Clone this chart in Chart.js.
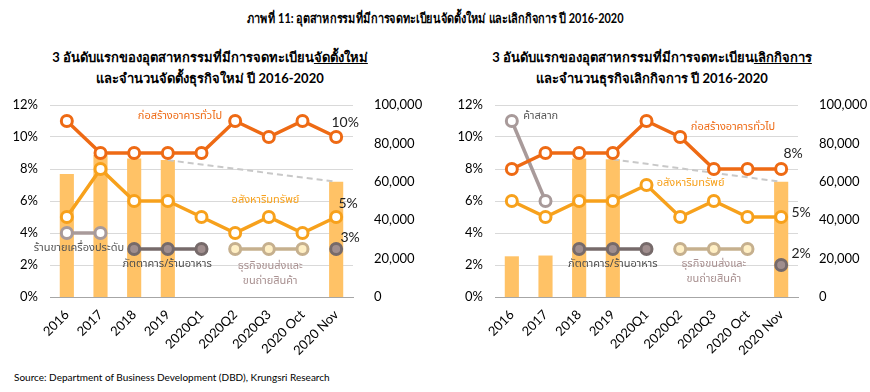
<!DOCTYPE html>
<html>
<head>
<meta charset="utf-8">
<script src="https://cdn.jsdelivr.net/npm/chart.js@4"></script>
<style>
    body { margin: 0; width: 870px; height: 392px; background: #fff; font-family: Lato, "Noto Sans", sans-serif; position: relative; overflow: hidden; }
    .title { position: absolute; top: 8px; left: 0; width: 870px; text-align: center; font-weight: bold; font-size: 13px; color: #000; }
    .title span { display: inline-block; transform: scaleX(0.84); }
    .sub { position: absolute; top: 47px; width: 420px; text-align: center; font-weight: bold; font-size: 13px; line-height: 21px; color: #000; }
    .sub u { text-decoration: underline; }
    canvas { position: absolute; top: 92px; }
    .source { position: absolute; left: 14px; top: 371px; font-size: 10px; color: #000; }
</style>
</head>
<body>
<div class="title"><span>ภาพที่ 11: อุตสาหกรรมที่มีการจดทะเบียนจัดตั้งใหม่ และเลิกกิจการ ปี 2016-2020</span></div>
<div class="sub" style="left:0px">3 อันดับแรกของอุตสาหกรรมที่มีการจดทะเบียน<u>จัดตั้งใหม่</u><br>และจำนวนจัดตั้งธุรกิจใหม่ ปี 2016-2020</div>
<div class="sub" style="left:442px">3 อันดับแรกของอุตสาหกรรมที่มีการจดทะเบียน<u>เลิกกิจการ</u><br>และจำนวนธุรกิจเลิกกิจการ ปี 2016-2020</div>
<canvas id="newChart" width="432" height="268" style="left:0px"></canvas>
<canvas id="closedChart" width="435" height="268" style="left:435px"></canvas>
<div class="source">Source: Department of Business Development (DBD), Krungsri Research</div>

<script>
// Категории (ось X)
const categories = ['2016', '2017', '2018', '2019', '2020Q1', '2020Q2', '2020Q3', '2020 Oct', '2020 Nov'];

// Левый график: новые регистрации (%)
const newConstruction = [11, 9, 9, 9, 9, 11, 10, 11, 10];
const newRealEstate = [5, 8, 6, 6, 5, 4, 5, 4, 5];
const newJewelry = [4, 4, null, null, null, null, null, null, null];
const newRestaurant = [null, null, 3, 3, 3, null, null, null, 3];
const newTransport = [null, null, null, null, null, 3, 3, 3, null];
const newFirms = [64000, 74000, 72200, 71300, null, null, null, null, 60000];

// Правый график: закрытие бизнеса (%)
const closedConstruction = [8, 9, 9, 9, 11, 10, 8, 8, 8];
const closedRealEstate = [6, 5, 6, 6, 7, 5, 6, 5, 5];
const closedLottery = [11, 6, null, null, null, null, null, null, null];
const closedRestaurant = [null, null, 3, 3, 3, null, null, null, 2];
const closedTransport = [null, null, null, null, null, 3, 3, 3, null];
const closedFirms = [21200, 21600, 72200, 71700, null, null, null, null, 60000];

// Подписи осей
const pctTicks = [0, 2, 4, 6, 8, 10, 12];
const countTicks = [0, 20000, 40000, 60000, 80000, 100000];

// Цвета
const C = {
    construction: '#EE6A14',
    realEstate: '#F7A11C',
    bar: '#FFC266',
    mauve: '#A89A9A',
    darkGray: '#766A6A',
    darkFill: '#A08E8E',
    tan: '#C6B08E',
    tanFill: '#FFEFC4'
};

const thaiFont = 'Tahoma, "Noto Sans Thai", "Noto Sans", sans-serif';

// Линейный ряд с кружками
function lineSet(data, color, fill) {
    return {
        type: 'line',
        data: data,
        yAxisID: 'y',
        borderColor: color,
        borderWidth: 3.5,
        pointRadius: 5.5,
        pointHoverRadius: 5.5,
        pointBorderWidth: 3,
        pointBackgroundColor: fill || '#fff',
        pointBorderColor: color,
        spanGaps: false,
        order: 1
    };
}

// Плагин для текстовых подписей
const labelsPlugin = {
    id: 'labels',
    afterDatasetsDraw(chart, args, opts) {
        const ctx = chart.ctx;
        const x = chart.scales.x;
        const y = chart.scales.y;
        ctx.save();
        ctx.textAlign = 'center';
        ctx.textBaseline = 'middle';
        (opts.items || []).forEach(function(item) {
            ctx.font = '11px ' + thaiFont;
            ctx.fillStyle = item.color;
            ctx.fillText(item.text, x.getPixelForValue(item.i), y.getPixelForValue(item.v));
        });
        // Значения последней точки
        ctx.font = '14px Lato, sans-serif';
        ctx.fillStyle = '#222';
        (opts.ends || []).forEach(function(end) {
            const last = end.data[end.data.length - 1];
            const px = x.getPixelForValue(end.data.length - 1) + end.dx;
            const py = y.getPixelForValue(last) + end.dy;
            ctx.fillText(last + '%', px, py);
        });
        ctx.restore();
    }
};

function makeChart(id, lines, firms, items, ends, leftW, rightW) {
    const ctx = document.getElementById(id).getContext('2d');
    // Пунктир между столбцами 2019 и 2020 Nov
    const trend = firms.map((v, i) => i >= 3 ? v : null);
    return new Chart(ctx, {
        type: 'bar',
        data: {
            labels: categories,
            datasets: lines.concat([
                {
                    type: 'line',
                    data: trend,
                    yAxisID: 'y1',
                    borderColor: '#C8C8C8',
                    borderWidth: 2,
                    borderDash: [6, 4],
                    pointRadius: 0,
                    spanGaps: true,
                    order: 2
                },
                {
                    type: 'bar',
                    data: firms,
                    yAxisID: 'y1',
                    backgroundColor: C.bar,
                    barPercentage: 0.42,
                    categoryPercentage: 1,
                    order: 3
                }
            ])
        },
        options: {
            responsive: false,
            animation: false,
            devicePixelRatio: 1,
            layout: { padding: { top: 13, left: 0, right: 0, bottom: 0 } },
            plugins: {
                legend: { display: false },
                tooltip: { enabled: false },
                labels: { items: items, ends: ends }
            },
            scales: {
                x: {
                    grid: { display: false },
                    border: { display: true, color: '#A6A6A6', width: 1 },
                    ticks: {
                        color: '#000',
                        font: { family: 'Lato, sans-serif', size: 13 },
                        minRotation: 45,
                        maxRotation: 45,
                        padding: 2
                    },
                    afterFit: function(s) { s.height = 63; }
                },
                y: {
                    position: 'left',
                    min: 0,
                    max: 12,
                    afterBuildTicks: function(s) { s.ticks = pctTicks.map(v => ({ value: v })); },
                    grid: { color: '#D9D9D9', drawTicks: false, lineWidth: 1 },
                    border: { display: false },
                    ticks: {
                        color: '#000',
                        padding: 12,
                        font: { family: 'Lato, sans-serif', size: 13 },
                        callback: v => v + '%'
                    },
                    afterFit: function(s) { s.width = leftW; s.paddingTop = 0; s.paddingBottom = 0; }
                },
                y1: {
                    position: 'right',
                    min: 0,
                    max: 100000,
                    afterBuildTicks: function(s) { s.ticks = countTicks.map(v => ({ value: v })); },
                    grid: { display: false },
                    border: { display: false },
                    ticks: {
                        color: '#000',
                        padding: 13,
                        font: { family: 'Lato, sans-serif', size: 13 },
                        callback: v => v.toLocaleString('en-US')
                    },
                    afterFit: function(s) { s.width = rightW; s.paddingTop = 0; s.paddingBottom = 0; }
                }
            }
        },
        plugins: [labelsPlugin]
    });
}

makeChart('newChart', [
    lineSet(newConstruction, C.construction),
    lineSet(newRealEstate, C.realEstate),
    lineSet(newJewelry, C.mauve),
    lineSet(newRestaurant, C.darkGray, C.darkFill),
    lineSet(newTransport, C.tan, C.tanFill)
], newFirms, [
    { text: 'ก่อสร้างอาคารทั่วไป', i: 3.36, v: 11.25, color: C.construction },
    { text: 'อสังหาริมทรัพย์', i: 5.9, v: 6.0, color: C.realEstate },
    { text: 'ร้านขายเครื่องประดับ', i: 0.36, v: 3.0, color: '#555' },
    { text: 'ภัตตาคาร/ร้านอาหาร', i: 2.98, v: 2.0, color: '#4D4D4D' },
    { text: 'ธุรกิจขนส่งและ', i: 6.04, v: 1.9, color: '#A89090' },
    { text: 'ขนถ่ายสินค้า', i: 6.04, v: 0.95, color: '#A89090' }
], [
    { data: newConstruction, dx: 9, dy: -15 },
    { data: newRealEstate, dx: 12, dy: -14 },
    { data: newRestaurant, dx: 14, dy: -12 }
], 50, 79);

makeChart('closedChart', [
    lineSet(closedConstruction, C.construction),
    lineSet(closedRealEstate, C.realEstate),
    lineSet(closedLottery, C.mauve),
    lineSet(closedRestaurant, C.darkGray, C.darkFill),
    lineSet(closedTransport, C.tan, C.tanFill)
], closedFirms, [
    { text: 'ค้าสลาก', i: 0.86, v: 11.25, color: '#555' },
    { text: 'ก่อสร้างอาคารทั่วไป', i: 6.57, v: 10.56, color: C.construction },
    { text: 'อสังหาริมทรัพย์', i: 5.31, v: 7.1, color: C.realEstate },
    { text: 'ภัตตาคาร/ร้านอาหาร', i: 3.0, v: 2.0, color: '#4D4D4D' },
    { text: 'ธุรกิจขนส่งและ', i: 6.0, v: 2.0, color: '#A89090' },
    { text: 'ขนถ่ายสินค้า', i: 6.0, v: 1.1, color: '#A89090' }
], [
    { data: closedConstruction, dx: 12, dy: -16 },
    { data: closedRealEstate, dx: 20, dy: -5 },
    { data: closedRestaurant, dx: 20, dy: -12 }
], 60, 72);
</script>
</body>
</html>
